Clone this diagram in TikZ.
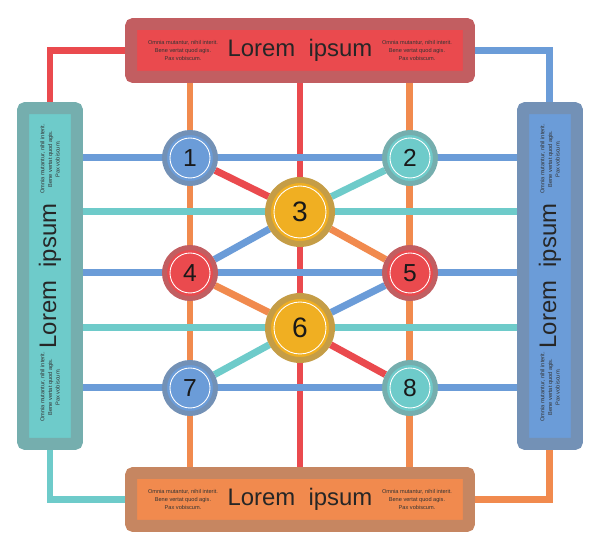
\documentclass[tikz,border=0pt]{standalone}
\usepackage{fontspec}
\setmainfont{Liberation Sans}
\usetikzlibrary{backgrounds,shadows}

\definecolor{redc}{HTML}{EA4A4E}
\definecolor{orangec}{HTML}{F18A4E}
\definecolor{bluec}{HTML}{6B9CD8}
\definecolor{tealc}{HTML}{6ECBCA}
\definecolor{yellowc}{HTML}{F0AF22}

\newcommand{\notetext}{Omnia mutantur, nihil interit.\\Bene vertat quod agis.\\Pax vobiscum.}

\begin{document}
\begin{tikzpicture}[
      x=0.02cm, y=-0.02cm,
      panel/.style={
         rectangle,
         rounded corners=0.05cm,
         fill=#1,
         draw=#1!62!gray,
         line width=0.24cm,
         inner sep=0pt,
         text=black!85,
         font=\fontsize{13.6}{14}\selectfont},
      hpanel/.style={panel=#1, minimum width=6.76cm, minimum height=1.06cm},
      vpanel/.style={panel=#1, minimum width=1.08cm, minimum height=6.72cm},
      note/.style={align=center, inner sep=0pt, text=black!80,
         font=\fontsize{3.2}{4.3}\selectfont},
      hub/.style={
         circle,
         fill=#1,
         draw=#1!62!gray,
         line width=0.1cm,
         minimum size=1.02cm,
         inner sep=0pt,
         text=black!90,
         font=\fontsize{14}{14}\selectfont,
         drop shadow={shadow xshift=0pt, shadow yshift=-0.05cm, opacity=0.25},
         path picture={\draw[white, line width=0.5pt]
            (path picture bounding box.center) circle (0.4cm);}},
      bighub/.style={
         hub=#1,
         line width=0.12cm,
         minimum size=1.28cm,
         font=\fontsize{16}{16}\selectfont,
         path picture={\draw[white, line width=0.5pt]
            (path picture bounding box.center) circle (0.52cm);}},
      wire/.style={draw=#1, line width=0.14cm}
      ]
\useasboundingbox (0,0) rectangle (600,550);

% side panels
\node[hpanel=redc   ] (top) at (300,50.5)  {Lorem\ \ ipsum};
\node[hpanel=orangec] (bot) at (300,499.5) {Lorem\ \ ipsum};
\node[vpanel=tealc  ] (lft) at (50,276)  {\rotatebox{90}{Lorem\ \ ipsum}};
\node[vpanel=bluec  ] (rgt) at (550,276) {\rotatebox{90}{Lorem\ \ ipsum}};

\node[note] (topl) at (183,50.5) {\notetext};
\node[note] (topr) at (417,50.5) {\notetext};
\node[note] (botl) at (183,499.5) {\notetext};
\node[note] (botr) at (417,499.5) {\notetext};
\node[note,rotate=90] (lftt) at (50,159) {\notetext};
\node[note,rotate=90] (lftb) at (50,387) {\notetext};
\node[note,rotate=90] (rgtt) at (550,159) {\notetext};
\node[note,rotate=90] (rgtb) at (550,387) {\notetext};

% hubs
\node[hub=bluec     ] (n1) at (190,158) {1};
\node[hub=tealc     ] (n2) at (410,158) {2};
\node[bighub=yellowc] (n3) at (300,212) {3};
\node[hub=redc      ] (n4) at (190,273) {4};
\node[hub=redc      ] (n5) at (410,273) {5};
\node[bighub=yellowc] (n6) at (300,328) {6};
\node[hub=bluec     ] (n7) at (190,388) {7};
\node[hub=tealc     ] (n8) at (410,388) {8};

\begin{scope}[on background layer]
% corner links
\draw[wire=redc   ] (top.west)  -| (lft.north);
\draw[wire=bluec  ] (top.east)  -| (rgt.north);
\draw[wire=tealc  ] (lft.south) |- (bot.west);
\draw[wire=orangec] (rgt.south) |- (bot.east);

% columns
\foreach \n/\c in {n1/orangec, n3/redc, n2/orangec}
   \draw[wire=\c] (top.south -| \n) -- (bot.north -| \n);

% rows
\foreach \n/\c in {n1/bluec, n3/tealc, n4/bluec, n6/tealc, n7/bluec}
   \draw[wire=\c] (lft.east |- \n) -- (rgt.west |- \n);

\foreach \i/\j/\c in {% start node/end node/colour
      n1/n3/redc,  n2/n3/tealc, n4/n3/bluec,  n5/n3/orangec,
      n4/n6/orangec, n5/n6/bluec, n7/n6/tealc, n8/n6/redc}
   \draw[wire=\c] (\i) -- (\j);
\end{scope}

\end{tikzpicture}
\end{document}
